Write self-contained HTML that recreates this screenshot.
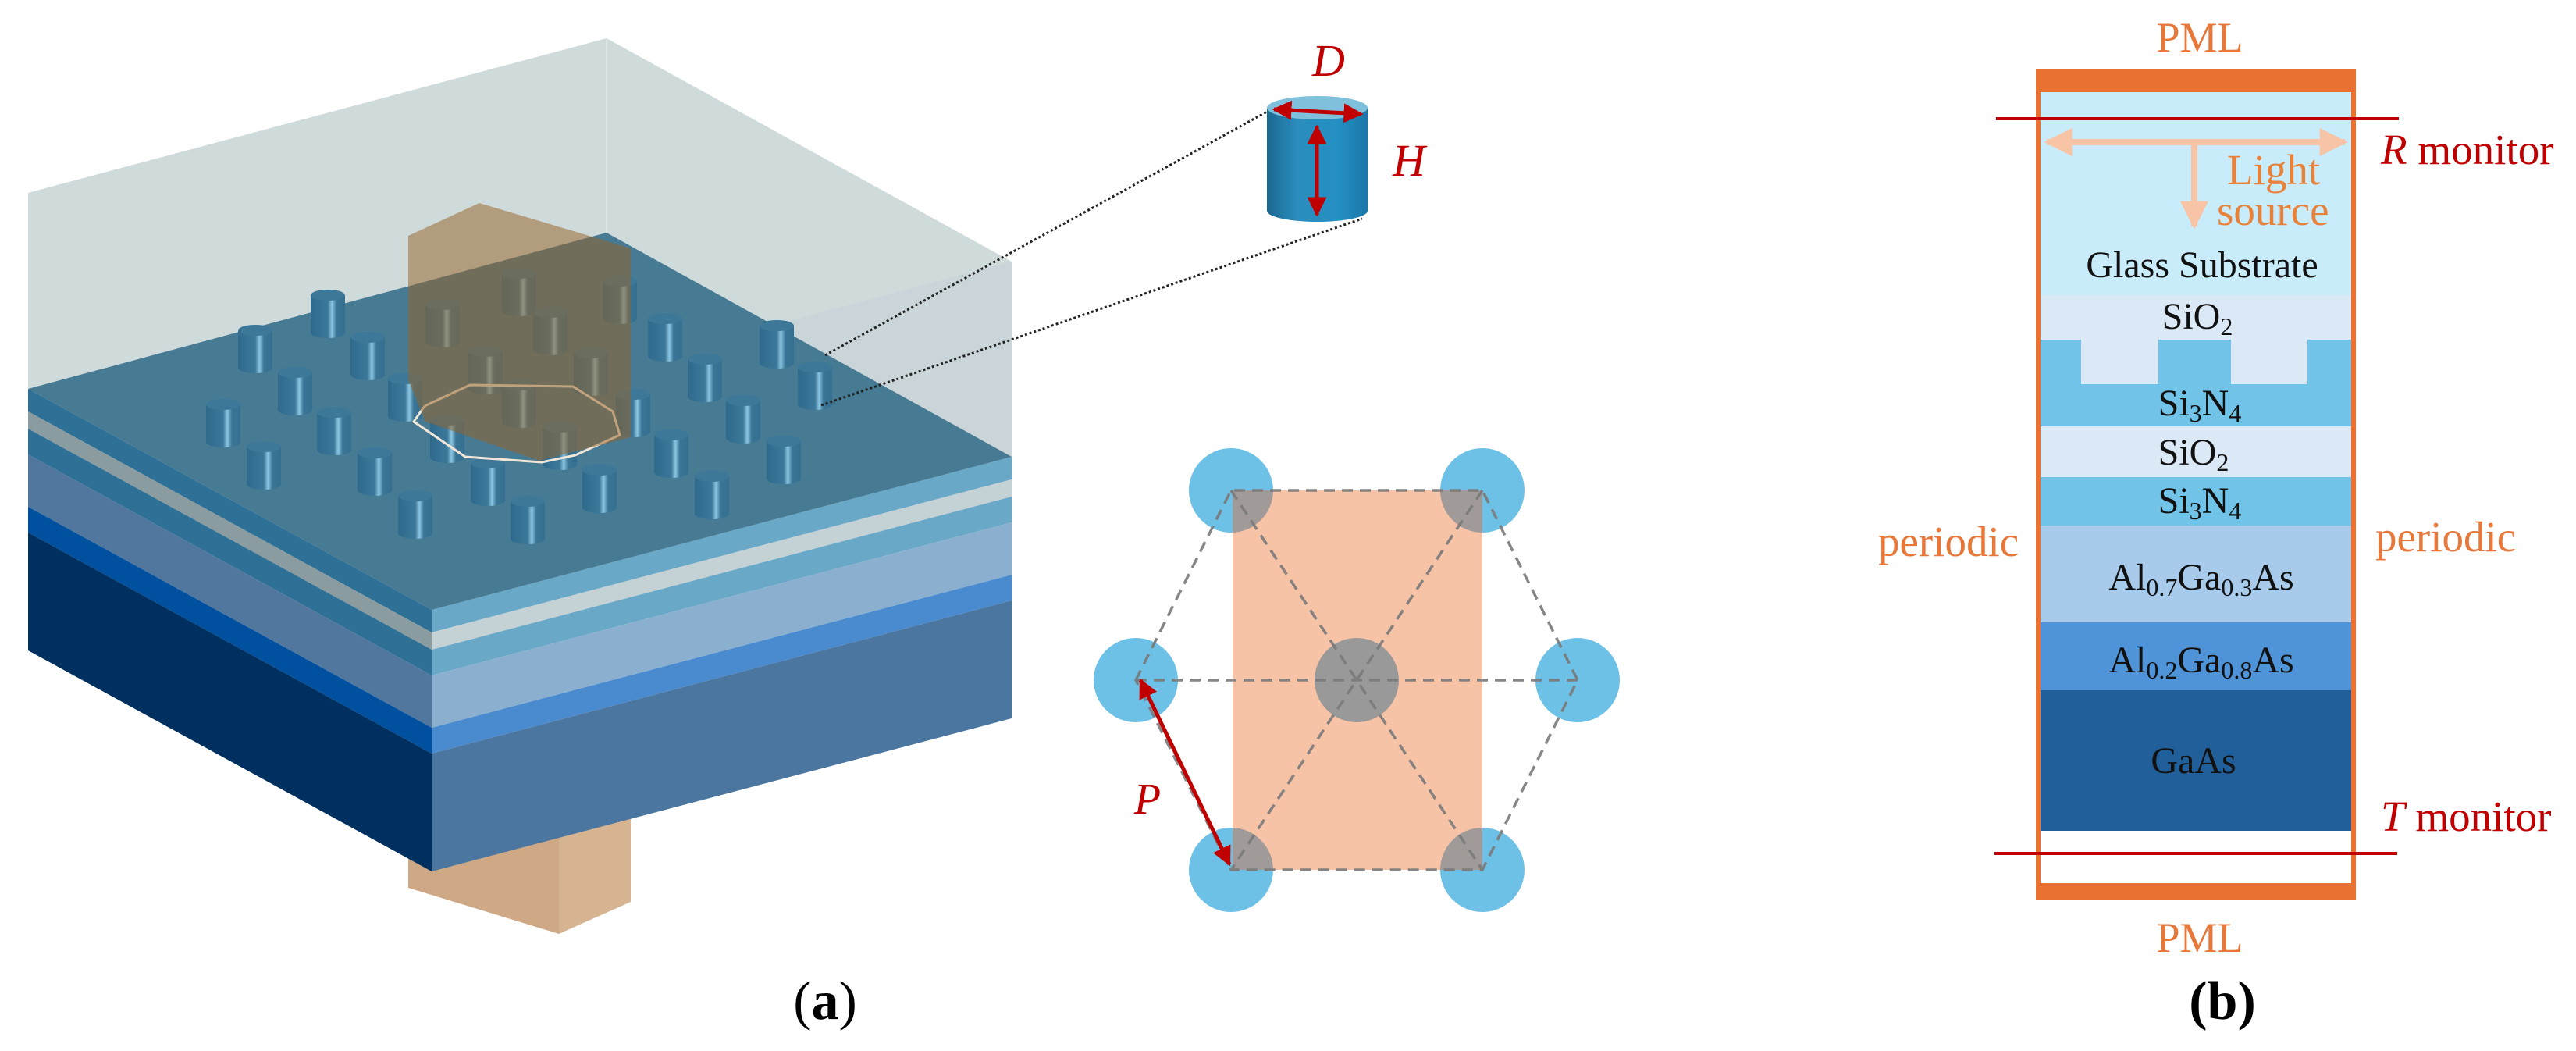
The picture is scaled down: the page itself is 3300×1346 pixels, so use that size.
<!DOCTYPE html>
<html><head><meta charset="utf-8"><style>
html,body{margin:0;padding:0;background:#fff;}
svg{display:block;}
text{font-family:"Liberation Serif",serif;}
</style></head><body>
<svg width="3300" height="1346" viewBox="0 0 3300 1346" xmlns="http://www.w3.org/2000/svg">
<defs>
<linearGradient id="pil" x1="0" x2="1" y1="0" y2="0">
<stop offset="0" stop-color="#2f6a8c"/><stop offset="0.5" stop-color="#3c7899"/><stop offset="0.62" stop-color="#8cc6e2"/><stop offset="0.75" stop-color="#3a7596"/><stop offset="1" stop-color="#356f90"/>
</linearGradient>
<linearGradient id="cyl" x1="0" x2="1" y1="0" y2="0">
<stop offset="0" stop-color="#1a6890"/><stop offset="0.3" stop-color="#2a8dbd"/><stop offset="0.7" stop-color="#2590c4"/><stop offset="1" stop-color="#1a77a8"/>
</linearGradient>
<symbol id="p" viewBox="0 0 44 62" width="44" height="62" overflow="visible">
<path d="M0 7 L0 55 A22 7 0 0 0 44 55 L44 7 Z" fill="url(#pil)"/>
<ellipse cx="22" cy="7" rx="22" ry="7" fill="#3d7899"/>
</symbol>
<clipPath id="rc"><rect x="1579" y="628" width="320" height="486"/></clipPath>
<marker id="ar" viewBox="0 0 10 10" refX="9" refY="5" markerWidth="5" markerHeight="5" orient="auto-start-reverse"><path d="M0 0 L10 5 L0 10 Z" fill="#c00000"/></marker>
<marker id="ao" viewBox="0 0 10 10" refX="9" refY="5" markerWidth="4.5" markerHeight="4.5" orient="auto-start-reverse"><path d="M0 0 L10 5 L0 10 Z" fill="#f8c4a6"/></marker>
</defs>

<!-- column bottom below substrate -->
<polygon points="523,1090 553,1110 716,1066 716,1196 523,1137" fill="#cfa985"/>
<polygon points="716,1066 808,1040 808,1155 716,1196" fill="#d6b491"/>

<!-- glass -->
<polygon points="36,247 777,49 1296,335 1296,585 553,781 36,498" fill="#cfdadb"/>
<polygon points="553,533 1296,335 1296,585 553,781" fill="#c9d5d8"/>
<line x1="777" y1="49" x2="777" y2="298" stroke="#dde6e7" stroke-width="2"/>

<!-- substrate layers -->
<g>
<polygon points="36,498 553,781 553,810 36,527" fill="#2e7096"/>
<polygon points="36,527 553,810 553,832 36,549" fill="#8a9ca0"/>
<polygon points="36,549 553,832 553,865 36,582" fill="#2e7096"/>
<polygon points="36,582 553,865 553,932 36,649" fill="#51779e"/>
<polygon points="36,649 553,932 553,965 36,682" fill="#0050a0"/>
<polygon points="36,682 553,965 553,1116 36,833" fill="#00305f"/>
<polygon points="553,781 1296,585 1296,614 553,810" fill="#6aa8c8"/>
<polygon points="553,810 1296,614 1296,636 553,832" fill="#c5d2d5"/>
<polygon points="553,832 1296,636 1296,669 553,865" fill="#6aa8c8"/>
<polygon points="553,865 1296,669 1296,736 553,932" fill="#8bb0cf"/>
<polygon points="553,932 1296,736 1296,769 553,965" fill="#4a8bd0"/>
<polygon points="553,965 1296,769 1296,920 553,1116" fill="#4a76a0"/>
</g>
<!-- top face -->
<polygon points="36,498 777,298 1296,585 553,781" fill="#477a93"/>

<!-- pillars -->
<g>
<use href="#p" x="398" y="371"/><use href="#p" x="305" y="416"/><use href="#p" x="449" y="425"/>
<use href="#p" x="356" y="470"/><use href="#p" x="264" y="511"/><use href="#p" x="406" y="521"/>
<use href="#p" x="316" y="565"/><use href="#p" x="458" y="573"/><use href="#p" x="510" y="628"/>
<use href="#p" x="497" y="478"/><use href="#p" x="551" y="531"/><use href="#p" x="600" y="443"/>
<use href="#p" x="545" y="383"/><use href="#p" x="643" y="343"/><use href="#p" x="683" y="393"/>
<use href="#p" x="772" y="353"/><use href="#p" x="735" y="445"/><use href="#p" x="643" y="486"/>
<use href="#p" x="789" y="498"/><use href="#p" x="695" y="540"/><use href="#p" x="603" y="586"/>
<use href="#p" x="654" y="635"/><use href="#p" x="746" y="595"/><use href="#p" x="830" y="401"/>
<use href="#p" x="881" y="453"/><use href="#p" x="930" y="506"/><use href="#p" x="973" y="410"/>
<use href="#p" x="1022" y="463"/><use href="#p" x="838" y="550"/><use href="#p" x="890" y="603"/>
<use href="#p" x="982" y="558"/>
</g>
<!-- hexagon lines -->
<polyline points="544,520 602,493 734,495 785,527 794,557 737,583 694,592 596,585 530,540 544,520" fill="none" stroke="#f2e6d8" stroke-width="3"/>

<!-- column translucent -->
<polygon points="523,302 614,260 808,318 808,560 691,590 545,540 523,487" fill="rgb(150,100,40)" fill-opacity="0.52"/>

<!-- dotted connectors -->
<line x1="1057" y1="455" x2="1623" y2="143" stroke="#222" stroke-width="3" stroke-dasharray="3,3"/>
<line x1="1052" y1="519" x2="1745" y2="280" stroke="#222" stroke-width="3" stroke-dasharray="3,3"/>

<!-- cylinder -->
<path d="M1623 138 L1623 270 A64.5 14 0 0 0 1752 270 L1752 138 Z" fill="url(#cyl)"/>
<ellipse cx="1687.5" cy="138" rx="64.5" ry="15" fill="#7fc0dc"/>
<line x1="1632" y1="140" x2="1744" y2="146" stroke="#c00000" stroke-width="5" marker-start="url(#ar)" marker-end="url(#ar)"/>
<line x1="1687" y1="162" x2="1687" y2="275" stroke="#c00000" stroke-width="5" marker-start="url(#ar)" marker-end="url(#ar)"/>
<text x="1702" y="97" font-size="58" font-style="italic" fill="#c00000" text-anchor="middle">D</text>
<text x="1805" y="225" font-size="58" font-style="italic" fill="#c00000" text-anchor="middle">H</text>

<!-- lattice -->
<g fill="#6ec1e6">
<circle cx="1577" cy="628" r="54"/><circle cx="1899" cy="628" r="54"/>
<circle cx="1455" cy="871" r="54"/><circle cx="2021" cy="871" r="54"/>
<circle cx="1577" cy="1114" r="54"/><circle cx="1899" cy="1114" r="54"/>
</g>
<rect x="1579" y="628" width="320" height="486" fill="#f7c3a7"/>
<g fill="#a09a98" clip-path="url(#rc)">
<circle cx="1577" cy="628" r="54"/><circle cx="1899" cy="628" r="54"/>
<circle cx="1577" cy="1114" r="54"/><circle cx="1899" cy="1114" r="54"/>
</g>
<circle cx="1738" cy="871" r="54" fill="#999999"/>
<g stroke="#7a7a7a" stroke-width="3.5" stroke-dasharray="14,9" fill="none" opacity="0.9">
<polygon points="1455,871 1577,628 1899,628 2021,871 1899,1114 1577,1114"/>
<line x1="1455" y1="871" x2="2021" y2="871"/>
<line x1="1577" y1="628" x2="1899" y2="1114"/>
<line x1="1899" y1="628" x2="1577" y2="1114"/>
</g>
<line x1="1461" y1="871" x2="1575" y2="1107" stroke="#c00000" stroke-width="5" marker-start="url(#ar)" marker-end="url(#ar)"/>
<text x="1470" y="1042" font-size="56" font-style="italic" fill="#c00000" text-anchor="middle">P</text>

<text x="1057" y="1305" font-size="70" text-anchor="middle" fill="#000">(<tspan font-weight="bold">a</tspan>)</text>

<!-- panel b -->
<rect x="2608" y="88" width="410" height="1064" fill="#e97132"/>
<rect x="2614" y="118" width="398" height="1013" fill="#ffffff"/>
<rect x="2614" y="118" width="398" height="260" fill="#c9ecfa"/>
<rect x="2614" y="378" width="398" height="57" fill="#dbe8f6"/>
<rect x="2614" y="435" width="398" height="111" fill="#72c3e8"/>
<rect x="2666" y="435" width="99" height="57" fill="#dbe8f6"/>
<rect x="2858" y="435" width="98" height="57" fill="#dbe8f6"/>
<rect x="2614" y="546" width="398" height="65" fill="#dbe8f6"/>
<rect x="2614" y="611" width="398" height="62" fill="#72c3e8"/>
<rect x="2614" y="673" width="398" height="124" fill="#a8cbec"/>
<rect x="2614" y="797" width="398" height="87" fill="#4f94d8"/>
<rect x="2614" y="884" width="398" height="180" fill="#215f9a"/>

<line x1="2557" y1="152" x2="3073" y2="152" stroke="#c00000" stroke-width="4"/>
<line x1="2555" y1="1093" x2="3071" y2="1093" stroke="#c00000" stroke-width="4"/>
<line x1="2622" y1="182" x2="3004" y2="182" stroke="#f8c4a6" stroke-width="8" marker-start="url(#ao)" marker-end="url(#ao)"/>
<line x1="2811" y1="182" x2="2811" y2="290" stroke="#f8c4a6" stroke-width="8" marker-end="url(#ao)"/>

<g font-size="48" fill="#111" text-anchor="middle">
<text x="2821" y="355">Glass Substrate</text>
<text x="2815" y="421">SiO<tspan font-size="32" dy="8">2</tspan></text>
<text x="2818" y="532">Si<tspan font-size="32" dy="8">3</tspan><tspan dy="-8">N</tspan><tspan font-size="32" dy="8">4</tspan></text>
<text x="2810" y="595">SiO<tspan font-size="32" dy="8">2</tspan></text>
<text x="2818" y="657">Si<tspan font-size="32" dy="8">3</tspan><tspan dy="-8">N</tspan><tspan font-size="32" dy="8">4</tspan></text>
<text x="2820" y="755">Al<tspan font-size="32" dy="8">0.7</tspan><tspan dy="-8">Ga</tspan><tspan font-size="32" dy="8">0.3</tspan><tspan dy="-8">As</tspan></text>
<text x="2820" y="861">Al<tspan font-size="32" dy="8">0.2</tspan><tspan dy="-8">Ga</tspan><tspan font-size="32" dy="8">0.8</tspan><tspan dy="-8">As</tspan></text>
<text x="2810" y="990">GaAs</text>
</g>
<g fill="#e8773a" font-size="55">
<text x="2818" y="66" text-anchor="middle" font-size="54">PML</text>
<text x="2818" y="1219" text-anchor="middle" font-size="54">PML</text>
<text x="2406" y="712">periodic</text>
<text x="3043" y="706">periodic</text>
<text x="2853" y="236" fill="#e8823a">Light</text>
<text x="2840" y="288" fill="#e8823a">source</text>
</g>
<g fill="#c00000" font-size="55">
<text x="3050" y="210"><tspan font-style="italic">R</tspan> monitor</text>
<text x="3050" y="1064"><tspan font-style="italic">T</tspan> monitor</text>
</g>
<text x="2847" y="1305" font-size="70" font-weight="bold" text-anchor="middle" fill="#000">(b)</text>
</svg>
</body></html>
